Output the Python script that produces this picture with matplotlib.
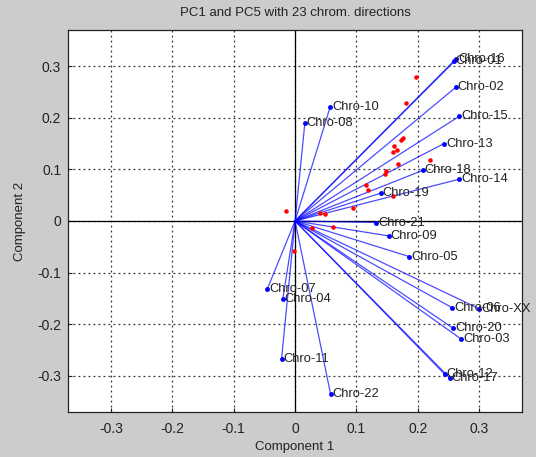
import matplotlib.pyplot as plt
import numpy as np

# Direcciones (cargas) de los cromosomas en PC1 y PC5
nombres = ['Chro-01', 'Chro-02', 'Chro-03', 'Chro-04', 'Chro-05', 'Chro-06',
           'Chro-07', 'Chro-08', 'Chro-09', 'Chro-10', 'Chro-11', 'Chro-12',
           'Chro-13', 'Chro-14', 'Chro-15', 'Chro-16', 'Chro-17', 'Chro-18',
           'Chro-19', 'Chro-20', 'Chro-21', 'Chro-22', 'Chro-XX']
carga_pc1 = [0.259, 0.262, 0.271, -0.020, 0.186, 0.256,
             -0.045, 0.016, 0.153, 0.057, -0.022, 0.244,
             0.243, 0.268, 0.268, 0.263, 0.252, 0.208,
             0.140, 0.258, 0.132, 0.058, 0.300]
carga_pc5 = [0.310, 0.259, -0.229, -0.151, -0.069, -0.168,
             -0.131, 0.190, -0.029, 0.220, -0.267, -0.297,
             0.150, 0.081, 0.203, 0.313, -0.304, 0.098,
             0.054, -0.208, -0.003, -0.336, -0.170]

# Puntuaciones de las observaciones
score_pc1 = [0.197, 0.181, 0.176, 0.172, 0.162, 0.166, 0.159, 0.168, 0.220,
             0.149, 0.146, 0.115, 0.119, 0.159, 0.095, -0.015, 0.040, 0.049,
             0.027, 0.062, -0.001]
score_pc5 = [0.279, 0.229, 0.160, 0.156, 0.146, 0.138, 0.133, 0.111, 0.118,
             0.096, 0.091, 0.070, 0.059, 0.048, 0.026, 0.019, 0.016, 0.014,
             -0.013, -0.012, -0.059]

fig = plt.figure(figsize=(5.36, 4.57), dpi=100, facecolor='#cccccc')
ax = fig.add_axes([0.127, 0.0985, 0.847, 0.836])
ax.set_facecolor('white')

# Ejes en el origen
ax.axhline(0, color='black', linewidth=0.9, zorder=1)
ax.axvline(0, color='black', linewidth=0.9, zorder=1)

# Vectores de carga
for nombre, x, y in zip(nombres, carga_pc1, carga_pc5):
    ax.plot([0, x], [0, y], color='blue', linewidth=0.9, alpha=0.7, zorder=2)
    ax.plot(x, y, '.', color='blue', markersize=5, zorder=3)
    ax.text(x + 0.003, y, nombre, fontsize=9.3, family='Liberation Sans',
            color='#222222', va='center', ha='left', zorder=4)

ax.plot(score_pc1, score_pc5, '.', color='red', markersize=4.5, zorder=3)

ax.set_xlim(-0.37, 0.37)
ax.set_ylim(-0.37, 0.37)
ticks = [-0.3, -0.2, -0.1, 0, 0.1, 0.2, 0.3]
ax.set_xticks(ticks)
ax.set_yticks(ticks)
ax.set_xticklabels(['-0.3', '-0.2', '-0.1', '0', '0.1', '0.2', '0.3'])
ax.set_yticklabels(['-0.3', '-0.2', '-0.1', '0', '0.1', '0.2', '0.3'])
ax.tick_params(direction='in', length=3, labelsize=10, colors='#222222')
ax.tick_params(axis='x', pad=7)
ax.tick_params(axis='y', pad=5)
for lbl in ax.get_xticklabels() + ax.get_yticklabels():
    lbl.set_family('Liberation Sans')
ax.grid(True, color='#333333', linestyle=(0, (1.5, 2.5)), linewidth=0.9)
ax.set_axisbelow(True)
for s in ax.spines.values():
    s.set_color('#222222')
    s.set_linewidth(0.9)

ax.set_xlabel('Component 1', fontsize=9.5, family='Liberation Sans', color='#222222', labelpad=4)
ax.set_ylabel('Component 2', fontsize=9.5, family='Liberation Sans', color='#222222', labelpad=8)
ax.set_title('PC1 and PC5 with 23 chrom. directions', fontsize=9.5,
             family='Liberation Sans', color='#222222', pad=10)

plt.savefig('out.png', dpi=100, facecolor=fig.get_facecolor())
